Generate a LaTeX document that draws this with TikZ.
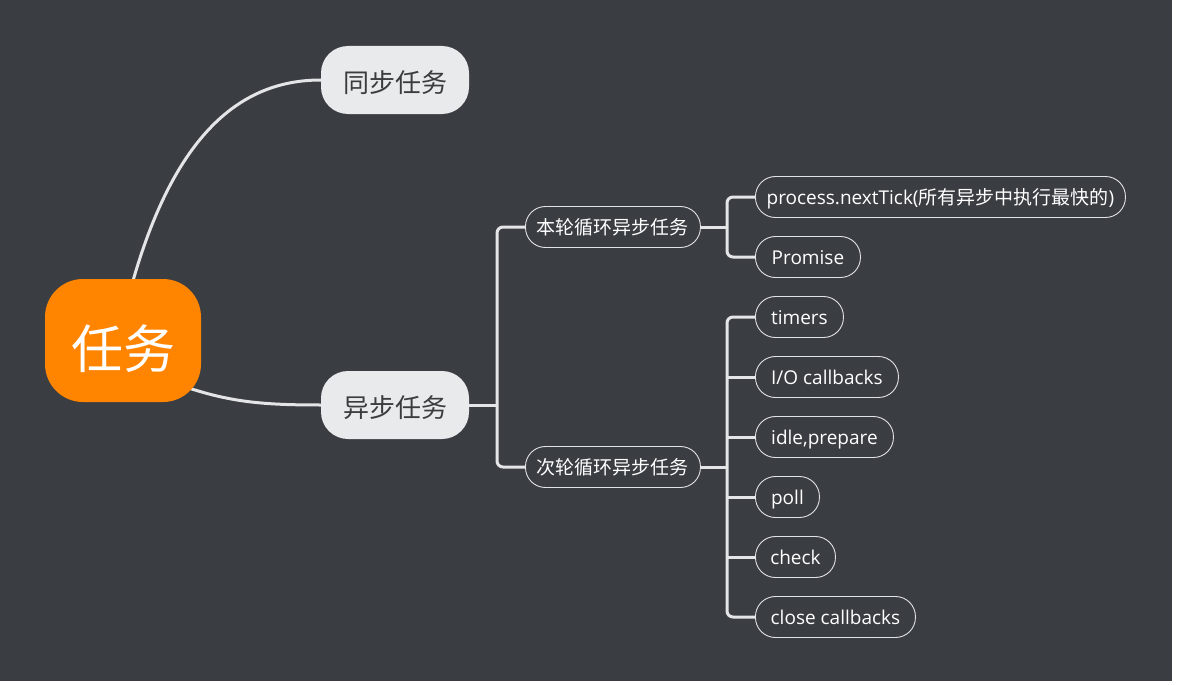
\documentclass[tikz,border=0pt]{standalone}
\usepackage{fontspec}
\setmainfont{Open Sans}
\newfontfamily\cjk{Noto Sans CJK SC}
\definecolor{bgc}{HTML}{3A3D42}
\definecolor{orng}{HTML}{FF8400}
\definecolor{lite}{HTML}{E9EAEC}
\definecolor{dtxt}{HTML}{3C3C3C}
\definecolor{conc}{HTML}{E4E5E6}
\definecolor{pillc}{HTML}{E2E3E4}
\pgfdeclarelayer{bglayer}
\pgfdeclarelayer{edgelayer}
\pgfsetlayers{bglayer,edgelayer,main}
\begin{document}
\begin{tikzpicture}[x=1pt,y=-1pt,
  rootbox/.style={rectangle, rounded corners=38pt, fill=orng, text=white,
    minimum width=156pt, minimum height=123pt, inner sep=0pt,
    text height=57pt, text depth=2pt,
    font=\cjk\fontsize{52pt}{58pt}\selectfont},
  midbox/.style={rectangle, rounded corners=27pt, fill=lite, text=dtxt,
    minimum width=148pt, minimum height=68pt, inner sep=0pt,
    text height=27.5pt, text depth=2pt,
    font=\cjk\fontsize{26pt}{31pt}\selectfont},
  pill/.style={rectangle, rounded corners=20pt, draw=pillc, line width=0.9pt,
    text=white, minimum height=41pt, inner sep=0pt, anchor=west,
    text height=17.5pt, text depth=2pt,
    font=\fontsize{19pt}{23pt}\selectfont},
  conn/.style={draw=conc, line width=3pt},
  bracket/.style={conn, rounded corners=6pt}]
\begin{pgfonlayer}{bglayer}
  \fill[white] (0,0) rectangle (1179,685);
  \fill[bgc] (0,0) rectangle (1172,681);
\end{pgfonlayer}

\node[rootbox] (root) at (123,340.5) {任务};
\node[midbox] (tong) at (395,80) {同步任务};
\node[midbox] (yibu) at (395,405) {异步任务};

\node[pill, minimum width=175pt] (benlun) at (525,227) {\cjk 本轮循环异步任务};
\node[pill, minimum width=175pt] (cilun) at (525,467) {\cjk 次轮循环异步任务};

\node[pill, minimum width=370pt] (proc) at (755,197) {process.nextTick({\cjk 所有异步中执行最快的})};
\node[pill, minimum width=105pt] (prom) at (755,257) {Promise};

\node[pill, minimum width=88pt] (timers) at (755,317) {timers};
\node[pill, minimum width=143pt] (io) at (755,377) {I/O callbacks};
\node[pill, minimum width=138pt] (idle) at (755,437) {idle,prepare};
\node[pill, minimum width=64pt] (poll) at (755,497) {poll};
\node[pill, minimum width=80pt] (check) at (755,557) {check};
\node[pill, minimum width=160pt] (close) at (755,617) {close callbacks};

\begin{pgfonlayer}{edgelayer}
  \draw[conn] ([xshift=10pt,yshift=-2pt]root.north) .. controls (175,135) and (240,80) .. (tong.west);
  \draw[conn] ([xshift=-18pt,yshift=16pt]root.south east) .. controls (230,402) and (262,405) .. (yibu.west);
  \draw[conn] (yibu.east) -- ++(28,0);
  \draw[bracket] (benlun.west) -- ++(-28,0) |- (cilun.west);
  \draw[conn] (benlun.east) -- ++(27,0);
  \draw[bracket] (proc.west) -- ++(-28,0) |- (prom.west);
  \draw[conn] (cilun.east) -- ++(27,0);
  \draw[bracket] (timers.west) -- ++(-28,0) |- (close.west);
  \foreach \n in {io,idle,poll,check}
    \draw[conn] (\n.west) -- ++(-28,0);
\end{pgfonlayer}
\end{tikzpicture}
\end{document}
